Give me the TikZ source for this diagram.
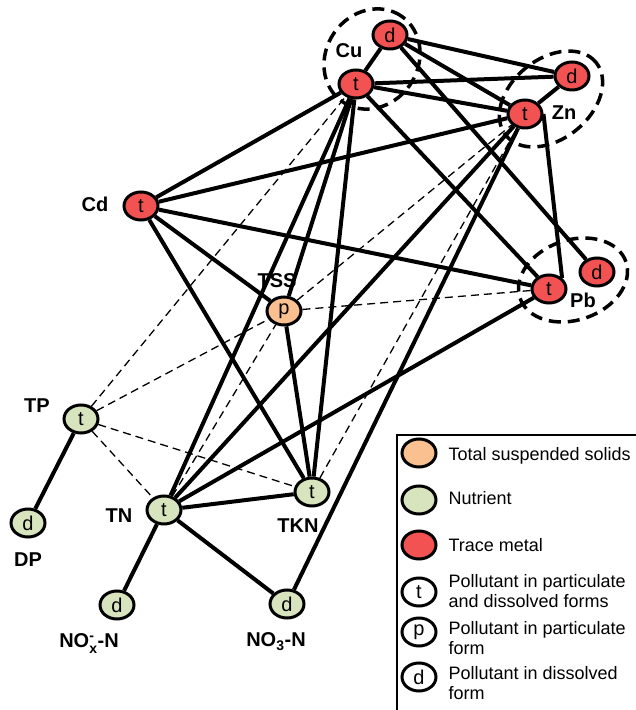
\documentclass[tikz,border=0pt]{standalone}
\usepackage{amsmath}
\usepackage{fontspec}
\setmainfont{Liberation Sans}
\usetikzlibrary{shapes.geometric}

\definecolor{metalred}{RGB}{242,82,82}
\definecolor{nutgreen}{RGB}{215,228,189}
\definecolor{tssorange}{RGB}{250,192,143}

\begin{document}
\begin{tikzpicture}[
    x=1pt, y=1pt,
    pollutant/.style={ellipse,draw,line width=3pt,minimum width=34pt,minimum height=28pt,inner sep=0pt,font=\fontsize{20}{24}\selectfont},
    metal/.style={pollutant,fill=metalred},
    nutrient/.style={pollutant,fill=nutgreen},
    solids/.style={pollutant,fill=tssorange},
    keynode/.style={pollutant,fill=white},
    chem/.style={anchor=base,font=\bfseries\fontsize{20}{24}\selectfont},
    legtext/.style={anchor=west,align=left,font=\fontsize{18}{20}\selectfont},
    link/.style={line width=4pt},
    weak/.style={line width=1.3pt,dash pattern=on 8pt off 5pt},
    metalgroup/.style={line width=3.5pt,dash pattern=on 12pt off 7pt}
]
\useasboundingbox (0,0) rectangle (636,710);

% trace metals
\node[metal] (cud) at (390,675) {d};
\node[metal] (cut) at (356,626) {t};
\node[metal] (znd) at (572,634) {d};
\node[metal] (znt) at (525,596) {t};
\node[metal] (cdt) at (141,504) {t};
\node[metal] (pbt) at (549,421) {t};
\node[metal] (pbd) at (597,438) {d};

% suspended solids and nutrients
\node[solids] (tss) at (284,399) {p};
\node[nutrient] (tp) at (81,291) {t};
\node[nutrient] (dp) at (28,187) {d};
\node[nutrient] (tn) at (164,200) {t};
\node[nutrient] (tkn) at (312,218) {t};
\node[nutrient] (nox) at (117,105) {d};
\node[nutrient] (no3) at (287,106) {d};

% names
\node[chem] (lcu) at (349,652) {Cu};
\node[chem] (lzn) at (564,590) {Zn};
\node[chem] (lcd) at (95,498) {Cd};
\node[chem] (ltss) at (277,422) {TSS};
\node[chem] (lpb) at (583,402) {Pb};
\node[chem] (ltp) at (37,297) {TP};
\node[chem] (ldp) at (28,143) {DP};
\node[chem] (ltn) at (119,187) {TN};
\node[chem] (ltkn) at (298,177) {TKN};
\node[chem] (lnox) at (89,62) {NO$^{\text{-}}_{\text{x}}$-N};
\node[chem] (lno3) at (276,63) {NO\textsubscript{3}-N};

% dashed rings round each metal
\draw[metalgroup,rotate around={55:(372,651)}] (372,651) ellipse [x radius=52pt,y radius=46pt];
\draw[metalgroup,rotate around={39:(551,611)}] (551,611) ellipse [x radius=58pt,y radius=40pt];
\draw[metalgroup,rotate around={19:(573,430)}] (573,430) ellipse [x radius=56pt,y radius=40pt];

% strong links
\draw[link] (cud) -- (cut);
\draw[link] (cud) -- (znd);
\draw[link] (cud) -- (znt);
\draw[link] (cud) -- (pbd);
\draw[link] (cut) -- (znd);
\draw[link] (cut) -- (znt);
\draw[link] (cut) -- (pbt);
\draw[link] (cut) -- (cdt);
\draw[link] (cut) -- (tn);
\draw[link] (cut) -- (tss);
\draw[link] (cut) -- (tkn);
\draw[link] (znd) -- (znt);
\draw[link] (znt) -- (cdt);
\draw[link] (znt.east) -- (pbt.north east);
\draw[link] (znt) -- (tn);
\draw[link] (znt) -- (no3);
\draw[link] (cdt) -- (pbt);
\draw[link] (cdt) -- (tss);
\draw[link] (cdt) -- (tkn);
\draw[link] (tss) -- (tkn);
\draw[link] (tn) -- (tkn);
\draw[link] (tn) -- (pbt);
\draw[link] (tn) -- (nox);
\draw[link] (tn) -- (no3);
\draw[link] (tp) -- (dp);

% weak links
\draw[weak] (tp) -- (cut);
\draw[weak] (tp) -- (tss);
\draw[weak] (tp) -- (tn);
\draw[weak] (tp) -- (tkn);
\draw[weak] (tn) -- (tss);
\draw[weak] (tss) -- (znt);
\draw[weak] (tss) -- (pbt);
\draw[weak] (tkn) -- (znt);

% legend
\draw[line width=1.3pt] (397,0) |- (636,275);
\node[solids] (key1) at (419,257) {};
\node[nutrient] (key2) at (419,210) {};
\node[metal] (key3) at (419,165) {};
\node[keynode] (key4) at (419,118) {t};
\node[keynode] (key5) at (419,78) {p};
\node[keynode] (key6) at (419,33) {d};
\node[legtext] (txt1) at (445,254.6) {Total suspended solids};
\node[legtext] (txt2) at (445,211.5) {Nutrient};
\node[legtext] (txt3) at (445,164.6) {Trace metal};
\node[legtext] (txt4) at (445,118.6) {Pollutant in particulate\\and dissolved forms};
\node[legtext] (txt5) at (445,71.6) {Pollutant in particulate\\form};
\node[legtext] (txt6) at (445,26.6) {Pollutant in dissolved\\form};

\end{tikzpicture}
\end{document}
